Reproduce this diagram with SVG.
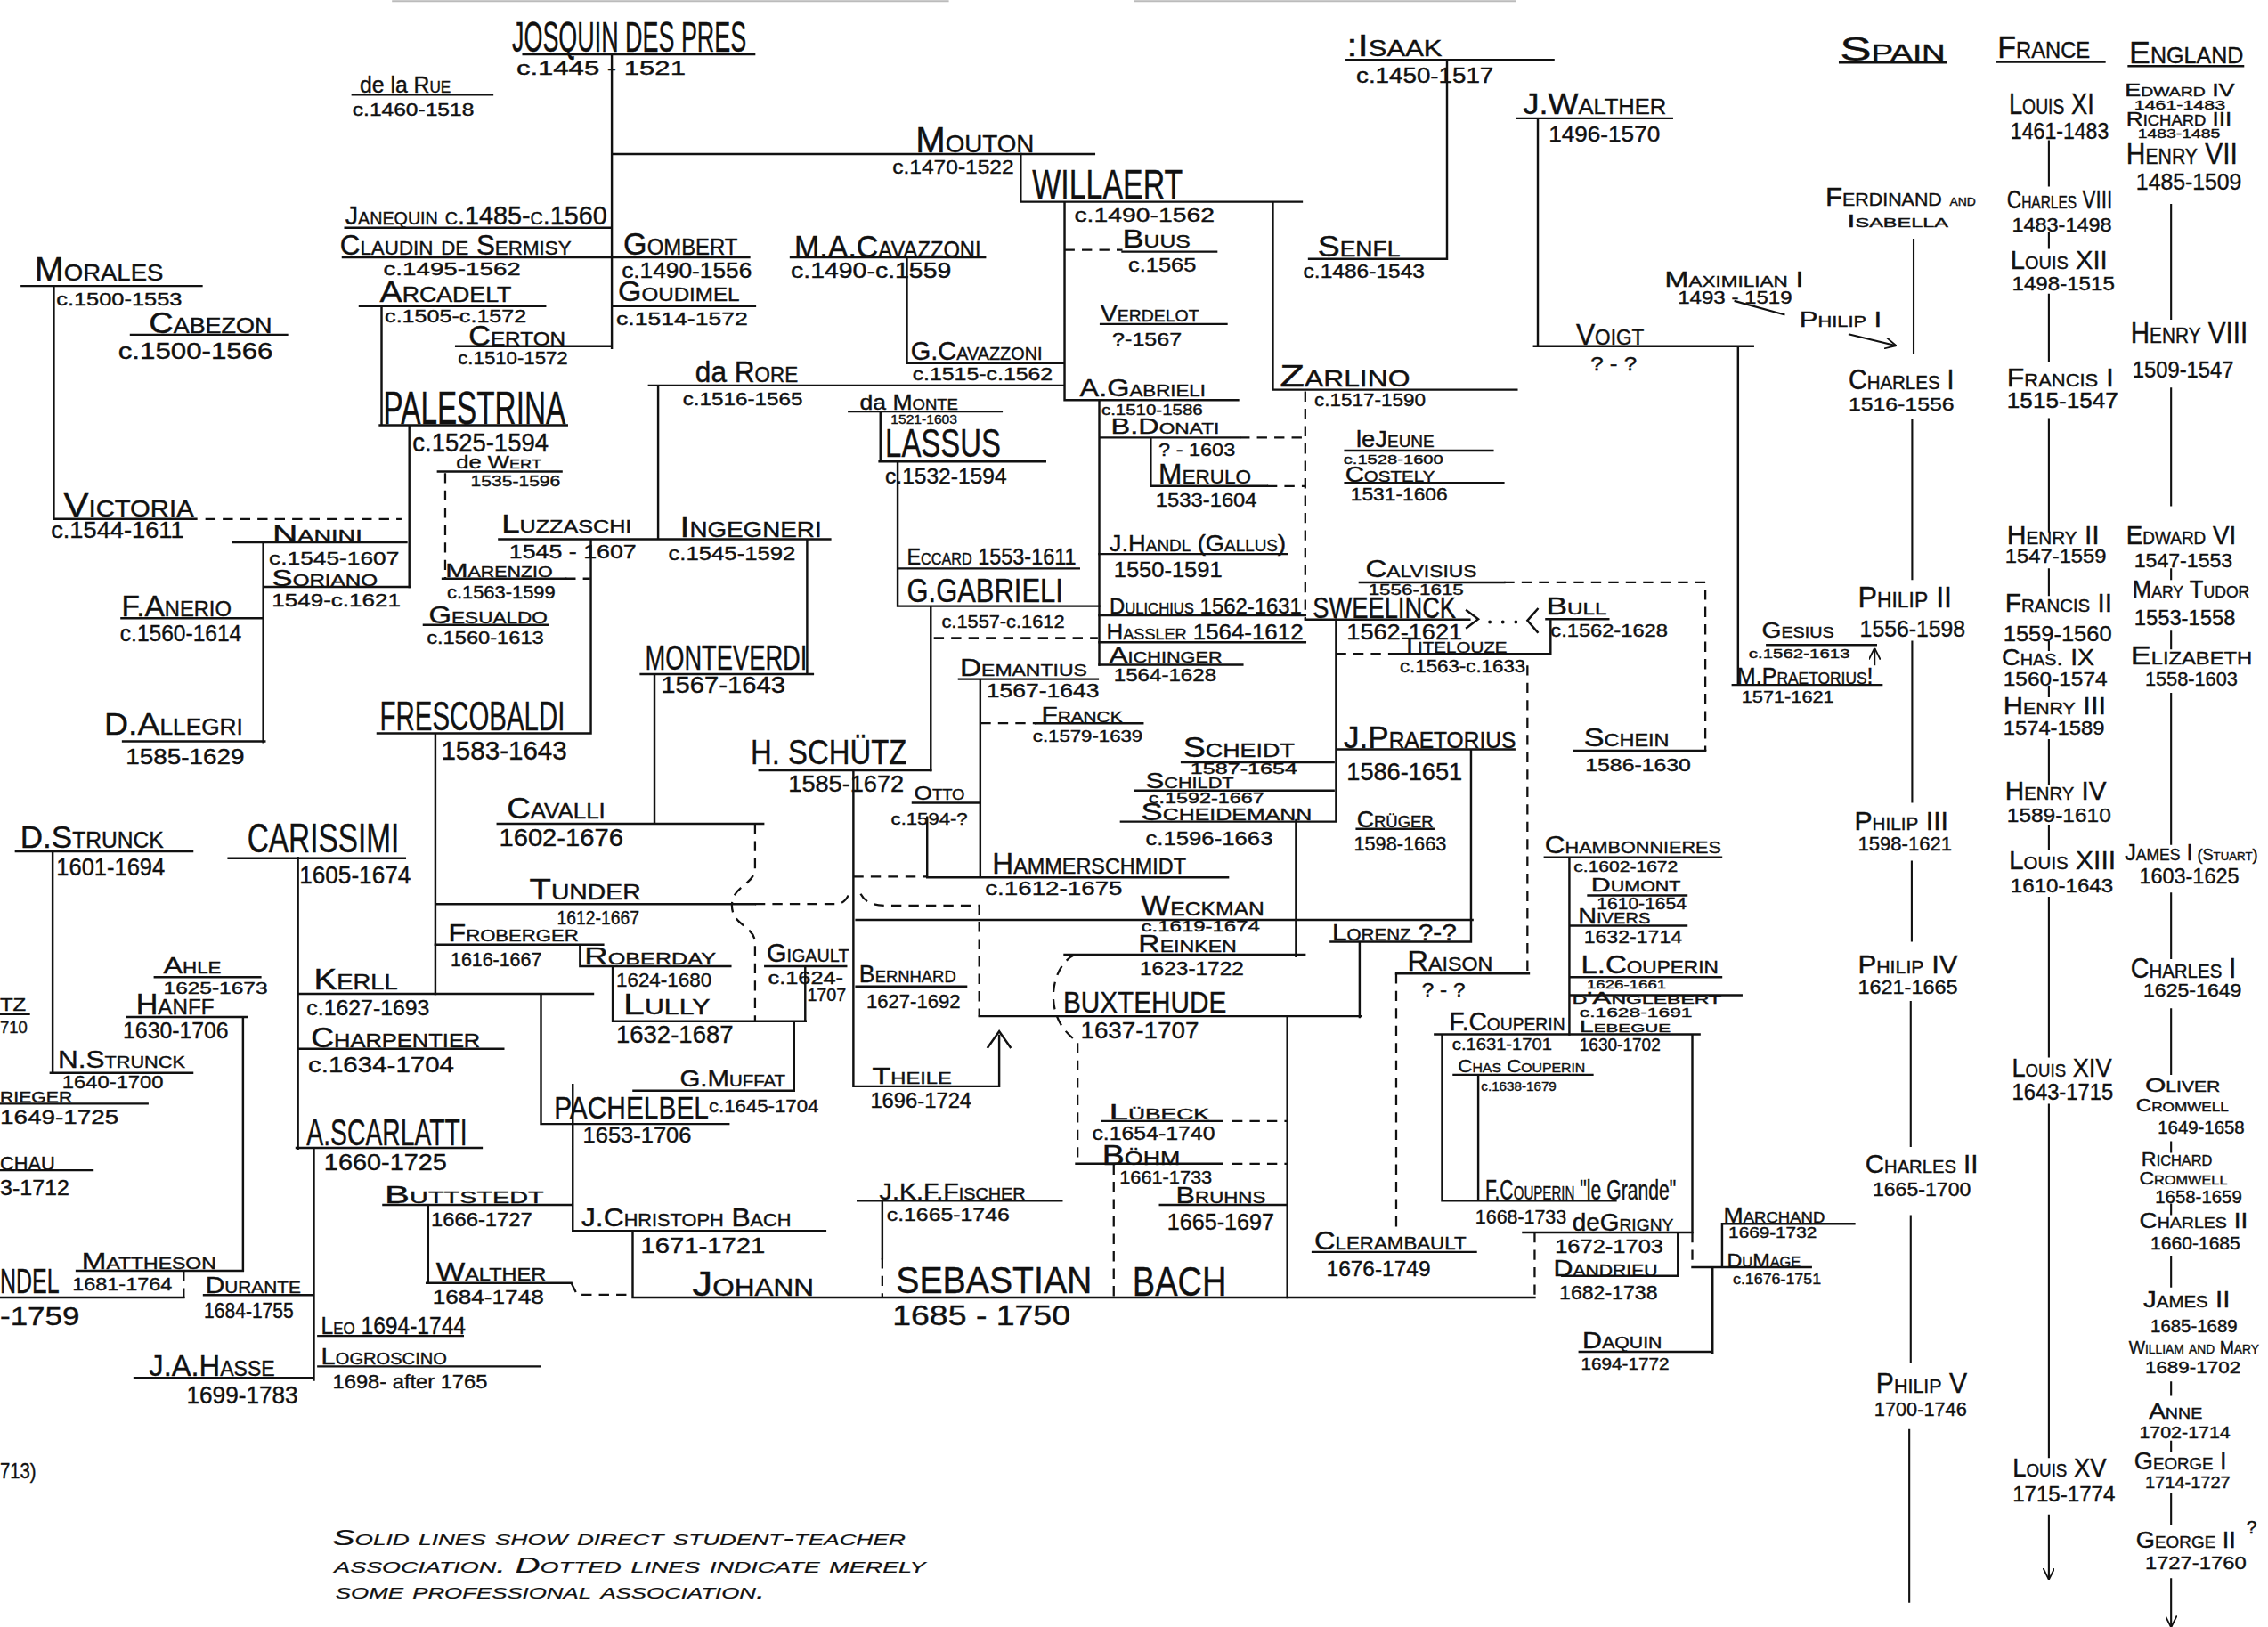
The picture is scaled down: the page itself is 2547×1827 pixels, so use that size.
<svg xmlns="http://www.w3.org/2000/svg" width="2547" height="1827" viewBox="0 0 2547 1827">
<defs>
<style>
text{font-family:"Liberation Sans",Arial,sans-serif;fill:#111;stroke:#111;stroke-width:0.25}
.n{font-variant:small-caps}
.lc{font-variant:normal}
.l{font-variant:small-caps;font-style:italic;stroke-width:0.15}
.s{stroke:#111;stroke-width:1.5;fill:none;stroke-linecap:square}
.ds{stroke:#111;stroke-width:1.4;fill:none;stroke-dasharray:7 5}
.ar{stroke:#111;stroke-width:1.3;fill:none;marker-end:url(#ah)}
.art{stroke:#bbb;stroke-width:1.2;fill:none}
</style>
<marker id="ah" viewBox="0 0 10 10" refX="10" refY="5" markerWidth="8" markerHeight="8" orient="auto" markerUnits="userSpaceOnUse"><path d="M0 0 L10 5 L0 10" fill="none" stroke="#111" stroke-width="1.4"/></marker>
</defs>
<rect width="2547" height="1827" fill="#fff"/>
<g transform="scale(1.62436)">
<g id="connectors">
<path class="art" d="M271 0.8H656M784 0.8H1048"/>
<path class="s" d="M361.8 37.5H521.5M423 38.5V240.5M423 106.5H756.5M243.7 65.4H340.4M238.7 157.5H423M237 178H518M423 211.6H522M248.7 211.6H376.9M263.8 211.6V294M315.3 239.3H423M262.6 294H392M283 294V405.7"/>
<path class="s" d="M15 197.7H139.4M37.2 197.7V358.8M90.5 231.4H198.5M37.7 358.8H135.7M160.8 375H281M182 375V513M182 405.7H283M84 427.4H182M85 512.5H183"/>
<path class="ds" d="M142 358.8H277.6M307.8 327V400M391 400H408"/>
<path class="s" d="M302.8 326H388.2M306 400H391M293 432H379M345 372.8H574M408.5 372.8V507M455 266.5V372.8M448.7 266.5H735M558 372.8V466M443 466H562M452.5 466V569.4M261 507H408.5M301 507V687M344 569.4H527.7M301 625H522"/>
<path class="ds" d="M522 569.4V600C522 612 506 612 506 626C506 640 522 640 522 652V706M522 625H578Q584 625 587 618M595 618Q599 626 612 626H677V702"/>
<path class="s" d="M301 653H417M401 653V668M401 668H505M423.6 668V706M423.6 706H557M529 668H585M556.7 668V706M549 706V754M438 754H549"/>
<path class="s" d="M158 593.3H280M206 593V794M207 687H410M374 687V777M374 777H503.7M396 750V851M396 851H570.6M437.4 851V897M437.4 897H1061M206 725H348M205 793.6H333M217 793.6V954M141 895.3H217M220 923.5H320M220 944.6H373M93 952.5H217M265 833H396M296 833V887M295 887H395"/>
<path class="ds" d="M395 887L399 895H437.4M610 870V897"/>
<path class="s" d="M593 830H734M610 830V870"/>
<path class="s" d="M11 588.5H133M36.4 588.5V741.7M35 741.7H133M107 675.5H180M88 703H171M168 703V878.5M53 878.5H168M0 897H127M0 701H20M0 763H102M0 809H64"/>
<path class="ds" d="M127 878.5V897"/>
<path class="s" d="M546.7 178H681M627 178V251M627 251H736M705.7 106.5V139.5M705.7 139.5H900M736 140V276.6M776 174H841M761 224H848M736 276.6H856M760 276.6V459.6M760 302.5H857M795.6 302.5V336M795.6 336H876M880 139.5V269.4M880 269.4H1048.6M930 311.5H1032M930 333.8H1039.4"/>
<path class="ds" d="M736 172.7H776M857 302.5H902.4M876 336H902.4M902.4 270.6V428"/>
<path class="s" d="M931 41.4H1074M1000.4 41.4V179M905 179H1000.4M1049 81.8H1156M1063.2 81.8V239.3M1060.6 239.3H1212M1201.6 239.3V473.5M1197.9 473.5H1300.9M1221.6 445.9H1297"/>
<path class="ar" d="M1296 460V448"/>
<path class="s" d="M586.9 284.5H692.5M608.7 285V319M608 319H722.6M620.6 319V419M622 393H746M620.6 419H760M643.5 419V532.6M760 383H890M760 425.4H902.4M760 444H902.4M760 459.6H859"/>
<path class="ds" d="M645.6 441H759"/>
<path class="s" d="M902.4 428.3H1016M1014 422L1022 428L1014 434M1063 421L1056 429L1063 437M940 402.6H1040M1088 519H1179M1069 428H1112M1072 428V452M967 452H1072"/>
<circle cx="1030" cy="430" r="1.2" fill="#111"/><circle cx="1039" cy="430" r="1.2" fill="#111"/><circle cx="1048" cy="430" r="1.2" fill="#111"/>
<path class="ds" d="M1040 402.6H1179V519M923.7 452H967M1056 460V673"/>
<path class="s" d="M923.7 428.3V567M924 518H1047M817 527H922M785 546.5H922M775 568H923.7M896 567V661M1017 519V651M938 573H991M920 651H1017M940 651V703M677 702.5H941M890 703V897M736 660H902"/>
<path class="ds" d="M743 660C726 668 720 704 745 720V804M852 804.5H890M852 775H890M770 805V897M965.3 673V853"/>
<path class="s" d="M744 804.5H845M762 775H845M802 833H890M907.5 865.5H1020.4M965.3 673H1057"/>
<path class="s" d="M992 715H1175M997 715V830M997 830H1117M1022 743V830M1005 743H1101M1053 852H1170M1170 715V852M1160 852V882M1080 882H1160M1170 876H1252M1190.6 846H1282M1190.6 846V876M1184 876V935M1092 934.5H1184"/>
<path class="ds" d="M1061 852V897M1170 852V876"/>
<path class="s" d="M1068 592.6H1190M1085 592.6V715M1098 619H1166M1085 640H1166M1085 675.5H1190M1085 688H1204"/>
<path class="s" d="M525 532.6H643.5M590 532.6V751M590.5 751H690.8M690.8 751V716M683 724L690.8 713L698.5 724M592 682H668M641 565V606M631 555H677M641 606.5H849M677.7 469.5V606M663 469.5H759M716 500H790M592 636H1018"/>
<path class="ds" d="M590 606H641M678 500H716"/>
<path class="s" d="M1272 43.3H1345.6M1381 42.8H1455M1471.7 45.7H1550.8"/>
<path class="ar" d="M1323 165V245M1322 290V401M1322 443V555M1321.7 595V651M1321 692V793M1321 840V942M1320 988V1108M1199 208L1234 217.6M1278 231L1311 239"/>
<path class="ar" d="M1416.5 97V129M1416.5 160V172M1416.5 203V250M1416.5 289V368M1416.5 393V412M1416.5 443V450M1416.5 474V482M1416.5 511V543M1416.5 570V588M1416.5 620V731M1416.5 763V1008M1416.5 1047V1092"/>
<path class="ar" d="M1501 141V221M1501 268V350M1501 393V401M1501 436V449M1501 479V584M1501 617V663M1501 697V743M1501 789V797M1501 832V840M1501 868V890M1501 955V965M1501 996V1004M1501 1032V1054M1501 1091V1125"/>
</g>
<g id="josquin"><text x="354" y="36" font-size="30" textLength="162" lengthAdjust="spacingAndGlyphs">JOSQUIN DES PRES</text><text x="357" y="52" font-size="14" textLength="117" lengthAdjust="spacingAndGlyphs">c.1445 - 1521</text></g>
<g id="delarue"><text class="n" x="248.7" y="64" font-size="16" textLength="63" lengthAdjust="spacingAndGlyphs"><tspan class="lc">de la </tspan>Rue</text><text x="243.7" y="80" font-size="12" textLength="84" lengthAdjust="spacingAndGlyphs">c.1460-1518</text></g>
<g id="mouton"><text class="n" x="633" y="105" font-size="25" textLength="82" lengthAdjust="spacingAndGlyphs">Mouton</text><text x="617" y="120" font-size="14" textLength="84" lengthAdjust="spacingAndGlyphs">c.1470-1522</text></g>
<g id="willaert"><text x="713.7" y="137" font-size="29" textLength="104" lengthAdjust="spacingAndGlyphs">WILLAERT</text><text x="742.7" y="153" font-size="14" textLength="97" lengthAdjust="spacingAndGlyphs">c.1490-1562</text></g>
<g id="buus"><text class="n" x="776" y="171" font-size="18" textLength="47" lengthAdjust="spacingAndGlyphs">Buus</text><text x="780" y="188" font-size="14" textLength="47" lengthAdjust="spacingAndGlyphs">c.1565</text></g>
<g id="verdelot"><text class="n" x="761" y="222" font-size="16" textLength="68" lengthAdjust="spacingAndGlyphs">Verdelot</text><text x="769" y="239" font-size="13" textLength="48" lengthAdjust="spacingAndGlyphs">?-1567</text></g>
<g id="isaak"><text class="n" x="931" y="39" font-size="22" textLength="66" lengthAdjust="spacingAndGlyphs">:Isaak</text><text x="937.6" y="57" font-size="15" textLength="95" lengthAdjust="spacingAndGlyphs">c.1450-1517</text></g>
<g id="senfl"><text class="n" x="911" y="177" font-size="20" textLength="57" lengthAdjust="spacingAndGlyphs">Senfl</text><text x="901" y="192" font-size="14" textLength="84" lengthAdjust="spacingAndGlyphs">c.1486-1543</text></g>
<g id="jwalther"><text class="n" x="1053" y="79" font-size="20" textLength="99" lengthAdjust="spacingAndGlyphs">J.Walther</text><text x="1070.7" y="98" font-size="15" textLength="77" lengthAdjust="spacingAndGlyphs">1496-1570</text></g>
<g id="voigt"><text class="n" x="1089.6" y="238" font-size="20" textLength="47" lengthAdjust="spacingAndGlyphs">Voigt</text><text x="1099.6" y="256" font-size="14" textLength="32" lengthAdjust="spacingAndGlyphs">? - ?</text></g>
<g id="maximilian"><text class="n" x="1151" y="198" font-size="15" textLength="96" lengthAdjust="spacingAndGlyphs">Maximilian I</text><text x="1160" y="210" font-size="12" textLength="79" lengthAdjust="spacingAndGlyphs">1493 - 1519</text></g>
<g id="philip1"><text class="n" x="1244" y="226" font-size="15" textLength="57" lengthAdjust="spacingAndGlyphs">Philip I</text></g>
<g id="zarlino"><text class="n" x="884.8" y="267" font-size="22" textLength="90" lengthAdjust="spacingAndGlyphs">Zarlino</text><text x="908.6" y="281" font-size="13" textLength="77" lengthAdjust="spacingAndGlyphs">c.1517-1590</text></g>
<g id="macavazzoni"><text class="n" x="549.2" y="178" font-size="22" textLength="129" lengthAdjust="spacingAndGlyphs">M.A.Cavazzoni</text><text x="546.7" y="192" font-size="15" textLength="111" lengthAdjust="spacingAndGlyphs">c.1490-c.1559</text></g>
<g id="gcavazzoni"><text class="n" x="629.6" y="249" font-size="18" textLength="91" lengthAdjust="spacingAndGlyphs">G.Cavazzoni</text><text x="630.8" y="263" font-size="12" textLength="97" lengthAdjust="spacingAndGlyphs">c.1515-c.1562</text></g>
<g id="darore"><text class="n" x="480.7" y="264" font-size="20" textLength="71" lengthAdjust="spacingAndGlyphs"><tspan class="lc">da </tspan>Rore</text><text x="472" y="280" font-size="13" textLength="83" lengthAdjust="spacingAndGlyphs">c.1516-1565</text></g>
<g id="damonte"><text class="n" x="594.4" y="283" font-size="15" textLength="68" lengthAdjust="spacingAndGlyphs"><tspan class="lc">da </tspan>Monte</text><text x="615.8" y="293" font-size="9" textLength="46" lengthAdjust="spacingAndGlyphs">1521-1603</text></g>
<g id="lassus"><text x="612" y="316" font-size="27" textLength="80" lengthAdjust="spacingAndGlyphs">LASSUS</text><text x="612" y="334" font-size="15" textLength="84" lengthAdjust="spacingAndGlyphs">c.1532-1594</text></g>
<g id="agabrieli"><text class="n" x="746.5" y="274" font-size="17" textLength="87" lengthAdjust="spacingAndGlyphs">A.Gabrieli</text><text x="761.5" y="287" font-size="10" textLength="70" lengthAdjust="spacingAndGlyphs">c.1510-1586</text></g>
<g id="donati"><text class="n" x="768" y="300" font-size="15" textLength="75" lengthAdjust="spacingAndGlyphs">B.Donati</text><text x="801" y="315" font-size="13" textLength="53" lengthAdjust="spacingAndGlyphs">? - 1603</text></g>
<g id="merulo"><text class="n" x="801" y="334" font-size="19" textLength="64" lengthAdjust="spacingAndGlyphs">Merulo</text><text x="799" y="350" font-size="14" textLength="70" lengthAdjust="spacingAndGlyphs">1533-1604</text></g>
<g id="lejeune"><text class="n" x="937.6" y="309" font-size="16" textLength="54" lengthAdjust="spacingAndGlyphs"><tspan class="lc">le</tspan>Jeune</text><text x="928.8" y="321" font-size="9" textLength="69" lengthAdjust="spacingAndGlyphs">c.1528-1600</text></g>
<g id="costely"><text class="n" x="930" y="333" font-size="15" textLength="62" lengthAdjust="spacingAndGlyphs">Costely</text><text x="933.8" y="346" font-size="13" textLength="67" lengthAdjust="spacingAndGlyphs">1531-1606</text></g>
<g id="janequin"><text class="n" x="238.7" y="155" font-size="18" textLength="181" lengthAdjust="spacingAndGlyphs">Janequin c.1485-c.1560</text></g>
<g id="claudin"><text class="n" x="235" y="176" font-size="19" textLength="160" lengthAdjust="spacingAndGlyphs">Claudin de Sermisy</text><text x="265" y="190" font-size="13" textLength="95" lengthAdjust="spacingAndGlyphs">c.1495-1562</text></g>
<g id="arcadelt"><text class="n" x="262.6" y="209" font-size="20" textLength="91" lengthAdjust="spacingAndGlyphs">Arcadelt</text><text x="266" y="223" font-size="13" textLength="98" lengthAdjust="spacingAndGlyphs">c.1505-c.1572</text></g>
<g id="certon"><text class="n" x="324" y="239" font-size="19" textLength="67" lengthAdjust="spacingAndGlyphs">Certon</text><text x="316.6" y="252" font-size="13" textLength="76" lengthAdjust="spacingAndGlyphs">c.1510-1572</text></g>
<g id="gombert"><text class="n" x="431" y="176" font-size="22" textLength="79" lengthAdjust="spacingAndGlyphs">Gombert</text><text x="429.8" y="192" font-size="15" textLength="90" lengthAdjust="spacingAndGlyphs">c.1490-1556</text></g>
<g id="goudimel"><text class="n" x="427.3" y="208" font-size="19" textLength="84" lengthAdjust="spacingAndGlyphs">Goudimel</text><text x="426" y="225" font-size="13" textLength="91" lengthAdjust="spacingAndGlyphs">c.1514-1572</text></g>
<g id="palestrina"><text x="265" y="293" font-size="32" textLength="126" lengthAdjust="spacingAndGlyphs">PALESTRINA</text><text x="285.2" y="312" font-size="18" textLength="94" lengthAdjust="spacingAndGlyphs">c.1525-1594</text></g>
<g id="dewert"><text class="n" x="315.3" y="324" font-size="13" textLength="59" lengthAdjust="spacingAndGlyphs"><tspan class="lc">de </tspan>Wert</text><text x="325.4" y="336" font-size="10" textLength="62" lengthAdjust="spacingAndGlyphs">1535-1596</text></g>
<g id="morales"><text class="n" x="23.9" y="194" font-size="23" textLength="89" lengthAdjust="spacingAndGlyphs">Morales</text><text x="38.9" y="211" font-size="13" textLength="87" lengthAdjust="spacingAndGlyphs">c.1500-1553</text></g>
<g id="cabezon"><text class="n" x="103" y="230" font-size="20" textLength="85" lengthAdjust="spacingAndGlyphs">Cabezon</text><text x="81.7" y="248" font-size="16" textLength="107" lengthAdjust="spacingAndGlyphs">c.1500-1566</text></g>
<g id="victoria"><text class="n" x="44" y="357" font-size="23" textLength="90" lengthAdjust="spacingAndGlyphs">Victoria</text><text x="35.2" y="372" font-size="16" textLength="92" lengthAdjust="spacingAndGlyphs">c.1544-1611</text></g>
<g id="nanini"><text class="n" x="188.4" y="374" font-size="16" textLength="62" lengthAdjust="spacingAndGlyphs">Nanini</text><text x="186" y="390" font-size="13" textLength="90" lengthAdjust="spacingAndGlyphs">c.1545-1607</text></g>
<g id="soriano"><text class="n" x="188" y="405" font-size="16" textLength="73" lengthAdjust="spacingAndGlyphs">Soriano</text><text x="188" y="419" font-size="13" textLength="89" lengthAdjust="spacingAndGlyphs">1549-c.1621</text></g>
<g id="anerio"><text class="n" x="84" y="426" font-size="20" textLength="76" lengthAdjust="spacingAndGlyphs">F.Anerio</text><text x="83" y="443" font-size="16" textLength="84" lengthAdjust="spacingAndGlyphs">c.1560-1614</text></g>
<g id="allegri"><text class="n" x="72" y="508" font-size="22" textLength="96" lengthAdjust="spacingAndGlyphs">D.Allegri</text><text x="87" y="528" font-size="15" textLength="82" lengthAdjust="spacingAndGlyphs">1585-1629</text></g>
<g id="luzzaschi"><text class="n" x="346.7" y="368" font-size="18" textLength="90" lengthAdjust="spacingAndGlyphs">Luzzaschi</text><text x="352" y="386" font-size="14" textLength="88" lengthAdjust="spacingAndGlyphs">1545 - 1607</text></g>
<g id="marenzio"><text class="n" x="308" y="399" font-size="14" textLength="74" lengthAdjust="spacingAndGlyphs">Marenzio</text><text x="309" y="414" font-size="12" textLength="75" lengthAdjust="spacingAndGlyphs">c.1563-1599</text></g>
<g id="gesualdo"><text class="n" x="296.5" y="431" font-size="17" textLength="82" lengthAdjust="spacingAndGlyphs">Gesualdo</text><text x="295" y="445" font-size="13" textLength="81" lengthAdjust="spacingAndGlyphs">c.1560-1613</text></g>
<g id="ingegneri"><text class="n" x="470" y="371" font-size="21" textLength="98" lengthAdjust="spacingAndGlyphs">Ingegneri</text><text x="462" y="387" font-size="14" textLength="88" lengthAdjust="spacingAndGlyphs">c.1545-1592</text></g>
<g id="frescobaldi"><text x="262.6" y="505" font-size="28" textLength="128" lengthAdjust="spacingAndGlyphs">FRESCOBALDI</text><text x="305" y="525" font-size="18" textLength="87" lengthAdjust="spacingAndGlyphs">1583-1643</text></g>
<g id="monteverdi"><text x="446" y="463" font-size="24" textLength="112" lengthAdjust="spacingAndGlyphs">MONTEVERDI</text><text x="457" y="479" font-size="16" textLength="86" lengthAdjust="spacingAndGlyphs">1567-1643</text></g>
<g id="cavalli"><text class="n" x="350.5" y="566" font-size="20" textLength="68" lengthAdjust="spacingAndGlyphs">Cavalli</text><text x="345" y="585" font-size="17" textLength="86" lengthAdjust="spacingAndGlyphs">1602-1676</text></g>
<g id="tunder"><text class="n" x="366" y="622" font-size="20" textLength="77" lengthAdjust="spacingAndGlyphs">Tunder</text><text x="385" y="639" font-size="14" textLength="57" lengthAdjust="spacingAndGlyphs">1612-1667</text></g>
<g id="froberger"><text class="n" x="310" y="651" font-size="17" textLength="90" lengthAdjust="spacingAndGlyphs">Froberger</text><text x="311.5" y="668" font-size="14" textLength="63" lengthAdjust="spacingAndGlyphs">1616-1667</text></g>
<g id="roberday"><text class="n" x="404" y="667" font-size="17" textLength="91" lengthAdjust="spacingAndGlyphs">Roberday</text><text x="426" y="682" font-size="14" textLength="66" lengthAdjust="spacingAndGlyphs">1624-1680</text></g>
<g id="lully"><text class="n" x="431" y="701" font-size="20" textLength="60" lengthAdjust="spacingAndGlyphs">Lully</text><text x="426" y="721" font-size="17" textLength="81" lengthAdjust="spacingAndGlyphs">1632-1687</text></g>
<g id="gigault"><text class="n" x="530" y="665" font-size="18" textLength="57" lengthAdjust="spacingAndGlyphs">Gigault</text><text x="531" y="680" font-size="12" textLength="52" lengthAdjust="spacingAndGlyphs">c.1624-</text><text x="558" y="692" font-size="12" textLength="27" lengthAdjust="spacingAndGlyphs">1707</text></g>
<g id="bernhard"><text class="n" x="594" y="679" font-size="17" textLength="67" lengthAdjust="spacingAndGlyphs">Bernhard</text><text x="599" y="697" font-size="14" textLength="65" lengthAdjust="spacingAndGlyphs">1627-1692</text></g>
<g id="gmuffat"><text class="n" x="470" y="751" font-size="16" textLength="73" lengthAdjust="spacingAndGlyphs">G.Muffat</text><text x="490" y="769" font-size="13" textLength="76" lengthAdjust="spacingAndGlyphs">c.1645-1704</text></g>
<g id="pachelbel"><text x="383" y="773" font-size="22" textLength="107" lengthAdjust="spacingAndGlyphs">PACHELBEL</text><text x="403" y="790" font-size="15" textLength="75" lengthAdjust="spacingAndGlyphs">1653-1706</text></g>
<g id="theile"><text class="n" x="603" y="749" font-size="16" textLength="55" lengthAdjust="spacingAndGlyphs">Theile</text><text x="601.7" y="766" font-size="15" textLength="70" lengthAdjust="spacingAndGlyphs">1696-1724</text></g>
<g id="schutz"><text x="519" y="528" font-size="24" textLength="108" lengthAdjust="spacingAndGlyphs">H. SCHÜTZ</text><text x="545" y="547" font-size="16" textLength="80" lengthAdjust="spacingAndGlyphs">1585-1672</text></g>
<g id="otto"><text class="n" x="632" y="553" font-size="14" textLength="35" lengthAdjust="spacingAndGlyphs">Otto</text><text x="616" y="570" font-size="11" textLength="53" lengthAdjust="spacingAndGlyphs">c.1594-?</text></g>
<g id="hammerschmidt"><text class="n" x="686" y="604" font-size="20" textLength="134" lengthAdjust="spacingAndGlyphs">Hammerschmidt</text><text x="681" y="619" font-size="14" textLength="95" lengthAdjust="spacingAndGlyphs">c.1612-1675</text></g>
<g id="demantius"><text class="n" x="663.6" y="467" font-size="17" textLength="88" lengthAdjust="spacingAndGlyphs">Demantius</text><text x="682" y="482" font-size="14" textLength="78" lengthAdjust="spacingAndGlyphs">1567-1643</text></g>
<g id="franck"><text class="n" x="720" y="499" font-size="15" textLength="56" lengthAdjust="spacingAndGlyphs">Franck</text><text x="714" y="513" font-size="11" textLength="76" lengthAdjust="spacingAndGlyphs">c.1579-1639</text></g>
<g id="eccard"><text class="n" x="627" y="390" font-size="16" textLength="117" lengthAdjust="spacingAndGlyphs">Eccard 1553-1611</text></g>
<g id="ggabrieli"><text x="627" y="416" font-size="23" textLength="108" lengthAdjust="spacingAndGlyphs">G.GABRIELI</text><text x="651" y="434" font-size="12" textLength="85" lengthAdjust="spacingAndGlyphs">c.1557-c.1612</text></g>
<g id="handl"><text class="n" x="767" y="381" font-size="16" textLength="122" lengthAdjust="spacingAndGlyphs">J.Handl (Gallus)</text><text x="770" y="399" font-size="15" textLength="75" lengthAdjust="spacingAndGlyphs">1550-1591</text></g>
<g id="dulichius"><text class="n" x="767" y="424" font-size="15" textLength="133" lengthAdjust="spacingAndGlyphs">Dulichius 1562-1631</text></g>
<g id="hassler"><text class="n" x="765" y="442" font-size="15" textLength="136" lengthAdjust="spacingAndGlyphs">Hassler 1564-1612</text></g>
<g id="aichinger"><text class="n" x="767" y="458" font-size="15" textLength="78" lengthAdjust="spacingAndGlyphs">Aichinger</text><text x="770" y="471" font-size="12" textLength="71" lengthAdjust="spacingAndGlyphs">1564-1628</text></g>
<g id="calvisius"><text class="n" x="944" y="399" font-size="17" textLength="77" lengthAdjust="spacingAndGlyphs">Calvisius</text><text x="946" y="411.5" font-size="10" textLength="66" lengthAdjust="spacingAndGlyphs">1556-1615</text></g>
<g id="sweelinck"><text x="907.6" y="427" font-size="21" textLength="99" lengthAdjust="spacingAndGlyphs">SWEELINCK</text><text x="931" y="442" font-size="15" textLength="80" lengthAdjust="spacingAndGlyphs">1562-1621</text></g>
<g id="bull"><text class="n" x="1069" y="425" font-size="17" textLength="42" lengthAdjust="spacingAndGlyphs">Bull</text><text x="1072" y="440" font-size="12" textLength="81" lengthAdjust="spacingAndGlyphs">c.1562-1628</text></g>
<g id="titelouze"><text class="n" x="969" y="451" font-size="15" textLength="73" lengthAdjust="spacingAndGlyphs">Titelouze</text><text x="967.7" y="465" font-size="12" textLength="87" lengthAdjust="spacingAndGlyphs">c.1563-c.1633</text></g>
<g id="jpraetorius"><text class="n" x="929" y="517" font-size="22" textLength="119" lengthAdjust="spacingAndGlyphs">J.Praetorius</text><text x="931" y="539" font-size="17" textLength="80" lengthAdjust="spacingAndGlyphs">1586-1651</text></g>
<g id="cruger"><text class="n" x="938" y="572" font-size="16" textLength="53" lengthAdjust="spacingAndGlyphs">Crüger</text><text x="936" y="588" font-size="14" textLength="64" lengthAdjust="spacingAndGlyphs">1598-1663</text></g>
<g id="schein"><text class="n" x="1095" y="516" font-size="18" textLength="59" lengthAdjust="spacingAndGlyphs">Schein</text><text x="1096" y="533" font-size="12" textLength="73" lengthAdjust="spacingAndGlyphs">1586-1630</text></g>
<g id="scheidt"><text class="n" x="818" y="523" font-size="19" textLength="77" lengthAdjust="spacingAndGlyphs">Scheidt</text><text x="823" y="535" font-size="10" textLength="74" lengthAdjust="spacingAndGlyphs">1587-1654</text></g>
<g id="schildt"><text class="n" x="792" y="545" font-size="15" textLength="61" lengthAdjust="spacingAndGlyphs">Schildt</text><text x="794" y="555" font-size="10" textLength="80" lengthAdjust="spacingAndGlyphs">c.1592-1667</text></g>
<g id="scheidemann"><text class="n" x="789" y="567" font-size="17" textLength="118" lengthAdjust="spacingAndGlyphs">Scheidemann</text><text x="792" y="584" font-size="14" textLength="88" lengthAdjust="spacingAndGlyphs">c.1596-1663</text></g>
<g id="weckman"><text class="n" x="789" y="633" font-size="19" textLength="85" lengthAdjust="spacingAndGlyphs">Weckman</text><text x="789" y="644" font-size="10" textLength="82" lengthAdjust="spacingAndGlyphs">c.1619-1674</text></g>
<g id="reinken"><text class="n" x="787" y="658" font-size="17" textLength="68" lengthAdjust="spacingAndGlyphs">Reinken</text><text x="788" y="674" font-size="14" textLength="72" lengthAdjust="spacingAndGlyphs">1623-1722</text></g>
<g id="lorenz"><text class="n" x="921" y="650" font-size="16" textLength="86" lengthAdjust="spacingAndGlyphs">Lorenz ?-?</text></g>
<g id="buxtehude"><text x="735" y="700" font-size="21" textLength="113" lengthAdjust="spacingAndGlyphs">BUXTEHUDE</text><text x="747" y="718" font-size="16" textLength="82" lengthAdjust="spacingAndGlyphs">1637-1707</text></g>
<g id="raison"><text class="n" x="973" y="671" font-size="19" textLength="59" lengthAdjust="spacingAndGlyphs">Raison</text><text x="983" y="689" font-size="14" textLength="30" lengthAdjust="spacingAndGlyphs">? - ?</text></g>
<g id="chambonnieres"><text class="n" x="1068" y="590" font-size="17" textLength="122" lengthAdjust="spacingAndGlyphs">Chambonnieres</text><text x="1088" y="602.5" font-size="10" textLength="72" lengthAdjust="spacingAndGlyphs">c.1602-1672</text></g>
<g id="dumont"><text class="n" x="1100" y="616.5" font-size="14" textLength="62" lengthAdjust="spacingAndGlyphs">Dumont</text><text x="1104" y="628.5" font-size="11" textLength="62" lengthAdjust="spacingAndGlyphs">1610-1654</text></g>
<g id="nivers"><text class="n" x="1091" y="638.5" font-size="15" textLength="50" lengthAdjust="spacingAndGlyphs">Nivers</text><text x="1095" y="652" font-size="13" textLength="68" lengthAdjust="spacingAndGlyphs">1632-1714</text></g>
<g id="lcouperin"><text class="n" x="1093" y="673" font-size="18" textLength="95" lengthAdjust="spacingAndGlyphs">L.Couperin</text><text x="1097" y="683.5" font-size="8" textLength="55" lengthAdjust="spacingAndGlyphs">1626-1661</text></g>
<g id="danglebert"><text class="n" x="1087" y="694" font-size="11" textLength="103" lengthAdjust="spacingAndGlyphs">d'Anglebert</text><text x="1092" y="703" font-size="9" textLength="78" lengthAdjust="spacingAndGlyphs">c.1628-1691</text></g>
<g id="lebegue"><text class="n" x="1092" y="713.5" font-size="11" textLength="63" lengthAdjust="spacingAndGlyphs">Lebegue</text><text x="1092" y="726.5" font-size="12" textLength="56" lengthAdjust="spacingAndGlyphs">1630-1702</text></g>
<g id="fcouperin"><text class="n" x="1002" y="712" font-size="18" textLength="80" lengthAdjust="spacingAndGlyphs">F.Couperin</text><text x="1004" y="726" font-size="11" textLength="69" lengthAdjust="spacingAndGlyphs">c.1631-1701</text></g>
<g id="chascouperin"><text class="n" x="1008" y="741" font-size="13" textLength="88" lengthAdjust="spacingAndGlyphs">Chas Couperin</text><text x="1024" y="754" font-size="9" textLength="52" lengthAdjust="spacingAndGlyphs">c.1638-1679</text></g>
<g id="fcouperin2"><text class="n" x="1026.8" y="829" font-size="19" textLength="132" lengthAdjust="spacingAndGlyphs">F.Couperin <tspan class="lc">"le Grande"</tspan></text><text x="1020" y="846" font-size="14" textLength="63" lengthAdjust="spacingAndGlyphs">1668-1733</text></g>
<g id="degrigny"><text class="n" x="1087" y="851" font-size="17" textLength="70" lengthAdjust="spacingAndGlyphs"><tspan class="lc">de</tspan>Grigny</text><text x="1075" y="866" font-size="14" textLength="75" lengthAdjust="spacingAndGlyphs">1672-1703</text></g>
<g id="dandrieu"><text class="n" x="1074" y="882" font-size="16" textLength="72" lengthAdjust="spacingAndGlyphs">Dandrieu</text><text x="1078" y="898" font-size="14" textLength="68" lengthAdjust="spacingAndGlyphs">1682-1738</text></g>
<g id="daquin"><text class="n" x="1094" y="932" font-size="16" textLength="55" lengthAdjust="spacingAndGlyphs">Daquin</text><text x="1093" y="947" font-size="11" textLength="61" lengthAdjust="spacingAndGlyphs">1694-1772</text></g>
<g id="marchand"><text class="n" x="1191.6" y="845" font-size="15" textLength="70" lengthAdjust="spacingAndGlyphs">Marchand</text><text x="1195" y="856" font-size="10" textLength="61" lengthAdjust="spacingAndGlyphs">1669-1732</text></g>
<g id="dumage"><text class="n" x="1194" y="876" font-size="14" textLength="51" lengthAdjust="spacingAndGlyphs">DuMage</text><text x="1198" y="888" font-size="10" textLength="61" lengthAdjust="spacingAndGlyphs">c.1676-1751</text></g>
<g id="clerambault"><text class="n" x="908.7" y="864" font-size="18" textLength="105" lengthAdjust="spacingAndGlyphs">Clerambault</text><text x="917" y="882" font-size="15" textLength="72" lengthAdjust="spacingAndGlyphs">1676-1749</text></g>
<g id="lubeck"><text class="n" x="767" y="774" font-size="15" textLength="69" lengthAdjust="spacingAndGlyphs">Lübeck</text><text x="755" y="788" font-size="14" textLength="85" lengthAdjust="spacingAndGlyphs">c.1654-1740</text></g>
<g id="bohm"><text class="n" x="762" y="805" font-size="19" textLength="54" lengthAdjust="spacingAndGlyphs">Böhm</text><text x="774" y="818" font-size="12" textLength="64" lengthAdjust="spacingAndGlyphs">1661-1733</text></g>
<g id="bruhns"><text class="n" x="813" y="832" font-size="16" textLength="62" lengthAdjust="spacingAndGlyphs">Bruhns</text><text x="807" y="850" font-size="16" textLength="74" lengthAdjust="spacingAndGlyphs">1665-1697</text></g>
<g id="fischer"><text class="n" x="608" y="829" font-size="16" textLength="101" lengthAdjust="spacingAndGlyphs">J.K.F.Fischer</text><text x="613" y="844" font-size="13" textLength="85" lengthAdjust="spacingAndGlyphs">c.1665-1746</text></g>
<g id="jcbach"><text class="n" x="402" y="848" font-size="18" textLength="145" lengthAdjust="spacingAndGlyphs">J.Christoph Bach</text><text x="443" y="866" font-size="15" textLength="86" lengthAdjust="spacingAndGlyphs">1671-1721</text></g>
<g id="jsbach"><text class="n" x="478.7" y="896" font-size="24" textLength="84" lengthAdjust="spacingAndGlyphs">Johann</text><text x="619.5" y="894" font-size="26" textLength="135.5" lengthAdjust="spacingAndGlyphs">SEBASTIAN</text><text x="783" y="896" font-size="28" textLength="65" lengthAdjust="spacingAndGlyphs">BACH</text><text x="617" y="916" font-size="19" textLength="123" lengthAdjust="spacingAndGlyphs">1685 - 1750</text></g>
<g id="buttstedt"><text class="n" x="266" y="832" font-size="17" textLength="110" lengthAdjust="spacingAndGlyphs">Buttstedt</text><text x="298" y="848" font-size="14" textLength="70" lengthAdjust="spacingAndGlyphs">1666-1727</text></g>
<g id="walther"><text class="n" x="301.5" y="885" font-size="18" textLength="76" lengthAdjust="spacingAndGlyphs">Walther</text><text x="299" y="901" font-size="14" textLength="77" lengthAdjust="spacingAndGlyphs">1684-1748</text></g>
<g id="ascarlatti"><text x="212" y="792" font-size="26" textLength="111" lengthAdjust="spacingAndGlyphs">A.SCARLATTI</text><text x="224" y="809" font-size="16" textLength="85" lengthAdjust="spacingAndGlyphs">1660-1725</text></g>
<g id="durante"><text class="n" x="142" y="894" font-size="16" textLength="66" lengthAdjust="spacingAndGlyphs">Durante</text><text x="141" y="911" font-size="15" textLength="62" lengthAdjust="spacingAndGlyphs">1684-1755</text></g>
<g id="leo"><text class="n" x="222" y="922" font-size="17" textLength="100" lengthAdjust="spacingAndGlyphs">Leo 1694-1744</text></g>
<g id="logroscino"><text class="n" x="222" y="943" font-size="16" textLength="87" lengthAdjust="spacingAndGlyphs">Logroscino</text><text x="230" y="960" font-size="14" textLength="107" lengthAdjust="spacingAndGlyphs">1698- after 1765</text></g>
<g id="hasse"><text class="n" x="103" y="951" font-size="21" textLength="87" lengthAdjust="spacingAndGlyphs">J.A.Hasse</text><text x="129" y="970" font-size="17" textLength="77" lengthAdjust="spacingAndGlyphs">1699-1783</text></g>
<g id="mattheson"><text class="n" x="56.5" y="877" font-size="16" textLength="93" lengthAdjust="spacingAndGlyphs">Mattheson</text><text x="50" y="892" font-size="13" textLength="69" lengthAdjust="spacingAndGlyphs">1681-1764</text></g>
<g id="handel"><text x="0" y="894" font-size="24" textLength="41" lengthAdjust="spacingAndGlyphs">NDEL</text><text x="0" y="916" font-size="18" textLength="55" lengthAdjust="spacingAndGlyphs">-1759</text></g>
<g id="cut713"><text x="0" y="1022" font-size="15" textLength="25" lengthAdjust="spacingAndGlyphs">713)</text></g>
<g id="zachau"><text x="0" y="809" font-size="14" textLength="38" lengthAdjust="spacingAndGlyphs">CHAU</text><text x="0" y="826" font-size="15" textLength="48" lengthAdjust="spacingAndGlyphs">3-1712</text></g>
<g id="krieger"><text x="0" y="762" font-size="10" textLength="50" lengthAdjust="spacingAndGlyphs">RIEGER</text><text x="0" y="777" font-size="14" textLength="82" lengthAdjust="spacingAndGlyphs">1649-1725</text></g>
<g id="cuttz"><text x="0" y="699" font-size="13" textLength="18" lengthAdjust="spacingAndGlyphs">TZ</text><text x="0" y="714" font-size="11" textLength="19" lengthAdjust="spacingAndGlyphs">710</text></g>
<g id="dstrunck"><text class="n" x="14" y="586" font-size="22" textLength="99" lengthAdjust="spacingAndGlyphs">D.Strunck</text><text x="39" y="605" font-size="17" textLength="75" lengthAdjust="spacingAndGlyphs">1601-1694</text></g>
<g id="carissimi"><text x="171" y="589" font-size="28" textLength="105" lengthAdjust="spacingAndGlyphs">CARISSIMI</text><text x="207" y="611" font-size="17" textLength="77" lengthAdjust="spacingAndGlyphs">1605-1674</text></g>
<g id="ahle"><text class="n" x="113" y="673" font-size="16" textLength="40" lengthAdjust="spacingAndGlyphs">Ahle</text><text x="113" y="687" font-size="11" textLength="72" lengthAdjust="spacingAndGlyphs">1625-1673</text></g>
<g id="hanff"><text class="n" x="94" y="701" font-size="20" textLength="54" lengthAdjust="spacingAndGlyphs">Hanff</text><text x="85" y="718" font-size="16" textLength="73" lengthAdjust="spacingAndGlyphs">1630-1706</text></g>
<g id="nstrunck"><text class="n" x="40" y="738" font-size="17" textLength="88" lengthAdjust="spacingAndGlyphs">N.Strunck</text><text x="43" y="752" font-size="12" textLength="70" lengthAdjust="spacingAndGlyphs">1640-1700</text></g>
<g id="kerll"><text class="n" x="217" y="684" font-size="20" textLength="58" lengthAdjust="spacingAndGlyphs">Kerll</text><text x="212" y="702" font-size="15" textLength="85" lengthAdjust="spacingAndGlyphs">c.1627-1693</text></g>
<g id="charpentier"><text class="n" x="215" y="724" font-size="19" textLength="117" lengthAdjust="spacingAndGlyphs">Charpentier</text><text x="213" y="741" font-size="15" textLength="101" lengthAdjust="spacingAndGlyphs">c.1634-1704</text></g>
<g id="gesius"><text class="n" x="1218" y="441" font-size="15" textLength="50" lengthAdjust="spacingAndGlyphs">Gesius</text><text x="1209" y="455" font-size="9" textLength="70" lengthAdjust="spacingAndGlyphs">c.1562-1613</text></g>
<g id="mpraetorius"><text class="n" x="1201" y="473" font-size="16" textLength="94" lengthAdjust="spacingAndGlyphs">M.Praetorius!</text><text x="1204" y="486" font-size="11" textLength="64" lengthAdjust="spacingAndGlyphs">1571-1621</text></g>
<g id="legend"><text class="l" x="230" y="1068" font-size="15" textLength="396" lengthAdjust="spacingAndGlyphs">Solid lines show direct student-teacher</text><text class="l" x="231" y="1087" font-size="15" textLength="409" lengthAdjust="spacingAndGlyphs">association. Dotted lines indicate merely</text><text class="l" x="232" y="1105" font-size="15" textLength="297" lengthAdjust="spacingAndGlyphs">some professional association.</text></g>
<g id="spain">
<text class="n" x="1272" y="42" font-size="23" textLength="73" lengthAdjust="spacingAndGlyphs">Spain</text>
<text class="n" x="1262" y="142" font-size="18" textLength="104" lengthAdjust="spacingAndGlyphs">Ferdinand <tspan font-size="11">and</tspan></text>
<text class="n" x="1277" y="157" font-size="13" textLength="70" lengthAdjust="spacingAndGlyphs">Isabella</text>
<text class="n" x="1278" y="269" font-size="19" textLength="73" lengthAdjust="spacingAndGlyphs">Charles I</text><text x="1278" y="284" font-size="13" textLength="73" lengthAdjust="spacingAndGlyphs">1516-1556</text>
<text class="n" x="1284.5" y="420" font-size="20" textLength="65" lengthAdjust="spacingAndGlyphs">Philip II</text><text x="1285.8" y="440" font-size="16" textLength="73" lengthAdjust="spacingAndGlyphs">1556-1598</text>
<text class="n" x="1282" y="574" font-size="18" textLength="65" lengthAdjust="spacingAndGlyphs">Philip III</text><text x="1284.5" y="588" font-size="14" textLength="65" lengthAdjust="spacingAndGlyphs">1598-1621</text>
<text class="n" x="1284.5" y="673" font-size="18" textLength="69" lengthAdjust="spacingAndGlyphs">Philip IV</text><text x="1284.5" y="687" font-size="14" textLength="69" lengthAdjust="spacingAndGlyphs">1621-1665</text>
<text class="n" x="1289.6" y="811" font-size="18" textLength="78" lengthAdjust="spacingAndGlyphs">Charles II</text><text x="1294.6" y="827" font-size="14" textLength="68" lengthAdjust="spacingAndGlyphs">1665-1700</text>
<text class="n" x="1297" y="963" font-size="19" textLength="63" lengthAdjust="spacingAndGlyphs">Philip V</text><text x="1295.8" y="979" font-size="14" textLength="64" lengthAdjust="spacingAndGlyphs">1700-1746</text>
</g>
<g id="france">
<text class="n" x="1381" y="40" font-size="22" textLength="64" lengthAdjust="spacingAndGlyphs">France</text>
<text class="n" x="1388.8" y="79" font-size="20" textLength="59" lengthAdjust="spacingAndGlyphs">Louis XI</text><text x="1390" y="96" font-size="16" textLength="68" lengthAdjust="spacingAndGlyphs">1461-1483</text>
<text class="n" x="1387.5" y="144" font-size="18" textLength="73" lengthAdjust="spacingAndGlyphs">Charles VIII</text><text x="1391" y="160" font-size="14" textLength="69" lengthAdjust="spacingAndGlyphs">1483-1498</text>
<text class="n" x="1390" y="186" font-size="18" textLength="67" lengthAdjust="spacingAndGlyphs">Louis XII</text><text x="1391" y="201" font-size="14" textLength="71" lengthAdjust="spacingAndGlyphs">1498-1515</text>
<text class="n" x="1387.5" y="267" font-size="18" textLength="74" lengthAdjust="spacingAndGlyphs">Francis I</text><text x="1387.5" y="282" font-size="15" textLength="77" lengthAdjust="spacingAndGlyphs">1515-1547</text>
<text class="n" x="1387.5" y="376" font-size="18" textLength="64" lengthAdjust="spacingAndGlyphs">Henry II</text><text x="1386.3" y="389" font-size="14" textLength="70" lengthAdjust="spacingAndGlyphs">1547-1559</text>
<text class="n" x="1386.3" y="423" font-size="18" textLength="74" lengthAdjust="spacingAndGlyphs">Francis II</text><text x="1385" y="443" font-size="15" textLength="75" lengthAdjust="spacingAndGlyphs">1559-1560</text>
<text class="n" x="1384" y="460" font-size="16" textLength="64" lengthAdjust="spacingAndGlyphs">Chas. IX</text><text x="1385" y="474" font-size="14" textLength="72" lengthAdjust="spacingAndGlyphs">1560-1574</text>
<text class="n" x="1385" y="494" font-size="17" textLength="71" lengthAdjust="spacingAndGlyphs">Henry III</text><text x="1385" y="508" font-size="14" textLength="70" lengthAdjust="spacingAndGlyphs">1574-1589</text>
<text class="n" x="1386.3" y="553" font-size="18" textLength="70" lengthAdjust="spacingAndGlyphs">Henry IV</text><text x="1387.5" y="568" font-size="14" textLength="72" lengthAdjust="spacingAndGlyphs">1589-1610</text>
<text class="n" x="1388.8" y="601" font-size="18" textLength="74" lengthAdjust="spacingAndGlyphs">Louis XIII</text><text x="1390" y="617" font-size="14" textLength="71" lengthAdjust="spacingAndGlyphs">1610-1643</text>
<text class="n" x="1391" y="744" font-size="18" textLength="69" lengthAdjust="spacingAndGlyphs">Louis XIV</text><text x="1391" y="760" font-size="16" textLength="70" lengthAdjust="spacingAndGlyphs">1643-1715</text>
<text class="n" x="1391.4" y="1021" font-size="18" textLength="65" lengthAdjust="spacingAndGlyphs">Louis XV</text><text x="1391.4" y="1038" font-size="15" textLength="71" lengthAdjust="spacingAndGlyphs">1715-1774</text>
</g>
<g id="england">
<text class="n" x="1472" y="44" font-size="22" textLength="79" lengthAdjust="spacingAndGlyphs">England</text>
<text class="n" x="1469" y="66.5" font-size="12" textLength="76" lengthAdjust="spacingAndGlyphs">Edward IV</text><text x="1475.5" y="76" font-size="9" textLength="63" lengthAdjust="spacingAndGlyphs">1461-1483</text>
<text class="n" x="1470" y="87" font-size="14" textLength="73" lengthAdjust="spacingAndGlyphs">Richard III</text><text x="1478" y="95.5" font-size="9" textLength="57" lengthAdjust="spacingAndGlyphs">1483-1485</text>
<text class="n" x="1470" y="113" font-size="20" textLength="77" lengthAdjust="spacingAndGlyphs">Henry VII</text><text x="1476.8" y="131" font-size="16" textLength="73" lengthAdjust="spacingAndGlyphs">1485-1509</text>
<text class="n" x="1473" y="237" font-size="21" textLength="81" lengthAdjust="spacingAndGlyphs">Henry VIII</text><text x="1474.3" y="261" font-size="16" textLength="70" lengthAdjust="spacingAndGlyphs">1509-1547</text>
<text class="n" x="1470" y="376" font-size="18" textLength="76" lengthAdjust="spacingAndGlyphs">Edward VI</text><text x="1475.5" y="392" font-size="14" textLength="68" lengthAdjust="spacingAndGlyphs">1547-1553</text>
<text class="n" x="1474.3" y="413" font-size="17" textLength="81" lengthAdjust="spacingAndGlyphs">Mary Tudor</text><text x="1475.5" y="432" font-size="15" textLength="70" lengthAdjust="spacingAndGlyphs">1553-1558</text>
<text class="n" x="1473" y="459" font-size="18" textLength="84" lengthAdjust="spacingAndGlyphs">Elizabeth</text><text x="1483" y="474" font-size="14" textLength="64" lengthAdjust="spacingAndGlyphs">1558-1603</text>
<text class="n" x="1469" y="595" font-size="16" textLength="47" lengthAdjust="spacingAndGlyphs">James I</text><text class="n" x="1519" y="595" font-size="11" textLength="42" lengthAdjust="spacingAndGlyphs">(Stuart)</text><text x="1479" y="611" font-size="15" textLength="69" lengthAdjust="spacingAndGlyphs">1603-1625</text>
<text class="n" x="1473" y="676" font-size="19" textLength="73" lengthAdjust="spacingAndGlyphs">Charles I</text><text x="1481.8" y="689" font-size="13" textLength="68" lengthAdjust="spacingAndGlyphs">1625-1649</text>
<text class="n" x="1483" y="755" font-size="14" textLength="52" lengthAdjust="spacingAndGlyphs">Oliver</text><text class="n" x="1476.8" y="768" font-size="13" textLength="64" lengthAdjust="spacingAndGlyphs">Cromwell</text><text x="1491.8" y="784" font-size="12" textLength="60" lengthAdjust="spacingAndGlyphs">1649-1658</text>
<text class="n" x="1480.5" y="806" font-size="14" textLength="49" lengthAdjust="spacingAndGlyphs">Richard</text><text class="n" x="1479" y="819" font-size="13" textLength="61" lengthAdjust="spacingAndGlyphs">Cromwell</text><text x="1490" y="832" font-size="12" textLength="60" lengthAdjust="spacingAndGlyphs">1658-1659</text>
<text class="n" x="1479" y="849" font-size="15" textLength="75" lengthAdjust="spacingAndGlyphs">Charles II</text><text x="1486.8" y="864" font-size="12" textLength="62" lengthAdjust="spacingAndGlyphs">1660-1685</text>
<text class="n" x="1481.8" y="904" font-size="16" textLength="60" lengthAdjust="spacingAndGlyphs">James II</text><text x="1486.8" y="921" font-size="12" textLength="60" lengthAdjust="spacingAndGlyphs">1685-1689</text>
<text class="n" x="1471.8" y="936" font-size="13" textLength="90" lengthAdjust="spacingAndGlyphs">William and Mary</text><text x="1483" y="949" font-size="11" textLength="66" lengthAdjust="spacingAndGlyphs">1689-1702</text>
<text class="n" x="1485.6" y="981" font-size="15" textLength="37" lengthAdjust="spacingAndGlyphs">Anne</text><text x="1479" y="994" font-size="11" textLength="63" lengthAdjust="spacingAndGlyphs">1702-1714</text>
<text class="n" x="1475.5" y="1016" font-size="17" textLength="64" lengthAdjust="spacingAndGlyphs">George I</text><text x="1483" y="1029" font-size="11" textLength="59" lengthAdjust="spacingAndGlyphs">1714-1727</text>
<text class="n" x="1476.8" y="1070" font-size="16" textLength="69" lengthAdjust="spacingAndGlyphs">George II</text><text x="1483" y="1085" font-size="13" textLength="70" lengthAdjust="spacingAndGlyphs">1727-1760</text>
<text x="1553" y="1060" font-size="13">?</text>
</g>
</g>
</svg>
